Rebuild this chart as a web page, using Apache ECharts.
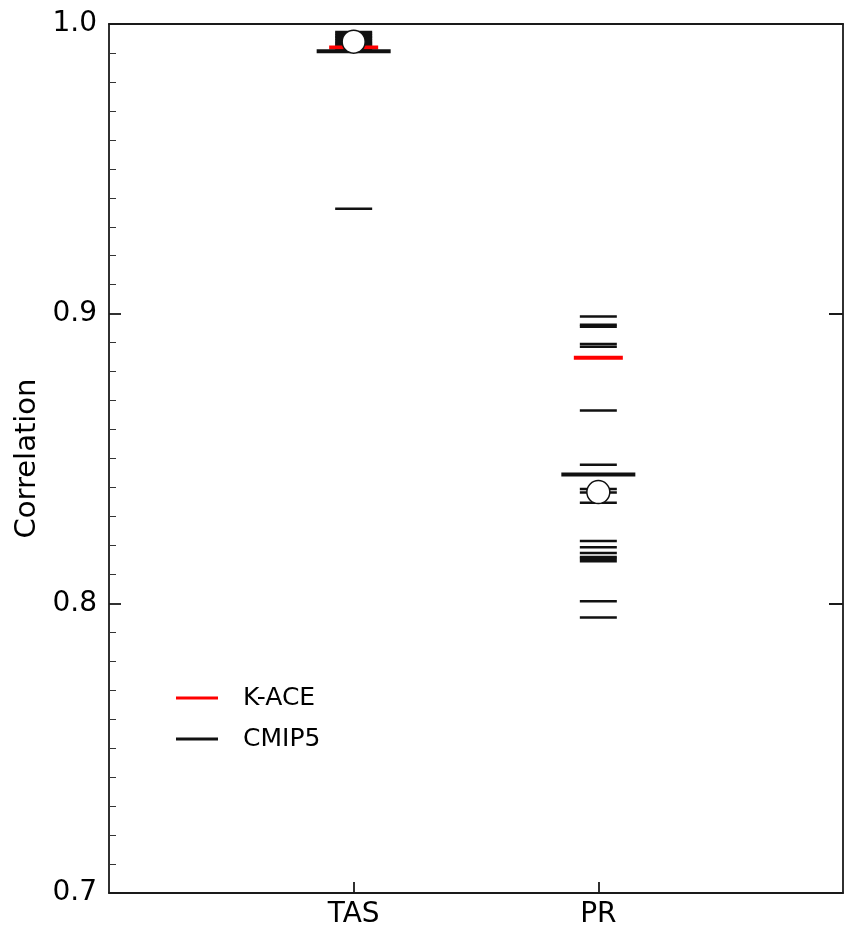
<!DOCTYPE html>
<html>
<head>
<meta charset="utf-8">
<script src="https://cdn.jsdelivr.net/npm/echarts@6/dist/echarts.min.js"></script>
<style>
  html, body { margin: 0; padding: 0; background: #fff; }
  #chart { width: 848px; height: 929px; }
</style>
</head>
<body>
<div id="chart"></div>
<script>
// variables on the x axis (plotted at x = 1, 2)
const categories = ['TAS', 'PR'];
const catPos = [1, 2];

// individual CMIP5 models (thin black dashes)
const tasModels = [0.9972, 0.9966, 0.9960, 0.9955, 0.9950, 0.9944, 0.9938, 0.9933,
  0.9928, 0.9922, 0.9912, 0.9906, 0.9362];
const prModels = [0.8990, 0.8962, 0.8955, 0.8895, 0.8886, 0.8666, 0.8478, 0.8395,
  0.8383, 0.8347, 0.8215, 0.8194, 0.8174, 0.8160, 0.8154, 0.8145, 0.8007, 0.7951];

// K-ACE (red), CMIP5 model mean (thick black), ensemble (open circle)
const kace = [0.9919, 0.8848];
const cmipMean = [0.9906, 0.8445];
const ensemble = [0.9939, 0.8384];

const yTicks = [0.7, 0.8, 0.9, 1.0];

const FONT = 'DejaVu Sans';
const INK = '#111';
const SPINE = '#1a1a1a';

const toPts = (vals, x) => vals.map(v => [x, v]);

const chart = echarts.init(document.getElementById('chart'));

chart.setOption({
  animation: false,
  backgroundColor: '#fff',
  grid: { left: 109, right: 5, top: 24, bottom: 36, outerBoundsMode: 'none' },
  legend: {
    orient: 'vertical',
    left: 176,
    top: 683,
    padding: 0,
    icon: 'rect',
    itemWidth: 42,
    itemHeight: 3,
    itemGap: 11,
    data: ['K-ACE', 'CMIP5'],
    textStyle: { fontFamily: FONT, fontSize: 25, color: '#000', lineHeight: 30, padding: [0, 0, 0, 20] }
  },
  xAxis: [{
    type: 'value', min: 0, max: 3, interval: 1,
    splitLine: { show: false },
    axisLine: { onZero: false, lineStyle: { color: SPINE, width: 1.8 } },
    axisTick: { inside: true, length: 11, customValues: catPos, lineStyle: { color: SPINE, width: 1.8 } },
    axisLabel: {
      customValues: catPos, margin: 8,
      fontFamily: FONT, fontSize: 28, color: '#000',
      formatter: v => categories[catPos.indexOf(v)] || ''
    }
  }, {
    type: 'value', min: 0, max: 3, position: 'top',
    splitLine: { show: false },
    axisLine: { onZero: false, lineStyle: { color: SPINE, width: 1.8 } },
    axisTick: { show: false }, axisLabel: { show: false }
  }],
  yAxis: [{
    type: 'value', min: 0.7, max: 1.0, interval: 0.1, position: 'left',
    name: 'Correlation', nameLocation: 'middle', nameGap: 66, nameRotate: 90,
    nameTextStyle: { fontFamily: FONT, fontSize: 29, color: '#000' },
    splitLine: { show: false },
    axisLine: { onZero: false, lineStyle: { color: SPINE, width: 1.8 } },
    axisTick: { inside: true, length: 12, lineStyle: { color: SPINE, width: 1.8 } },
    minorTick: { show: true, splitNumber: 10, length: 7, lineStyle: { color: '#333', width: 1 } },
    axisLabel: {
      margin: 12, fontFamily: FONT, fontSize: 28, color: '#000',
      customValues: yTicks,
      formatter: v => v.toFixed(1)
    }
  }, {
    type: 'value', min: 0.7, max: 1.0, interval: 0.1, position: 'right',
    splitLine: { show: false },
    axisLine: { onZero: false, lineStyle: { color: SPINE, width: 1.8 } },
    axisTick: { inside: true, length: 14, lineStyle: { color: SPINE, width: 2 } },
    axisLabel: { show: false }
  }],
  series: [
    {
      name: 'CMIP5', type: 'scatter', z: 2,
      symbol: 'rect', symbolSize: [37, 2.5],
      itemStyle: { color: INK, opacity: 1 },
      data: toPts(tasModels, catPos[0]).concat(toPts(prModels, catPos[1]))
    },
    {
      name: 'K-ACE', type: 'scatter', z: 3,
      symbol: 'rect', symbolSize: [49, 4],
      itemStyle: { color: '#ff0000', opacity: 1 },
      data: kace.map((v, i) => [catPos[i], v])
    },
    {
      name: 'mean', type: 'scatter', z: 4,
      symbol: 'rect', symbolSize: [74, 4],
      itemStyle: { color: INK, opacity: 1 },
      data: cmipMean.map((v, i) => [catPos[i], v])
    },
    {
      name: 'ensemble', type: 'scatter', z: 5,
      symbol: 'circle', symbolSize: 23,
      itemStyle: { color: '#fff', borderColor: INK, borderWidth: 1.5, opacity: 1 },
      data: ensemble.map((v, i) => [catPos[i], v])
    }
  ]
});
</script>
</body>
</html>
